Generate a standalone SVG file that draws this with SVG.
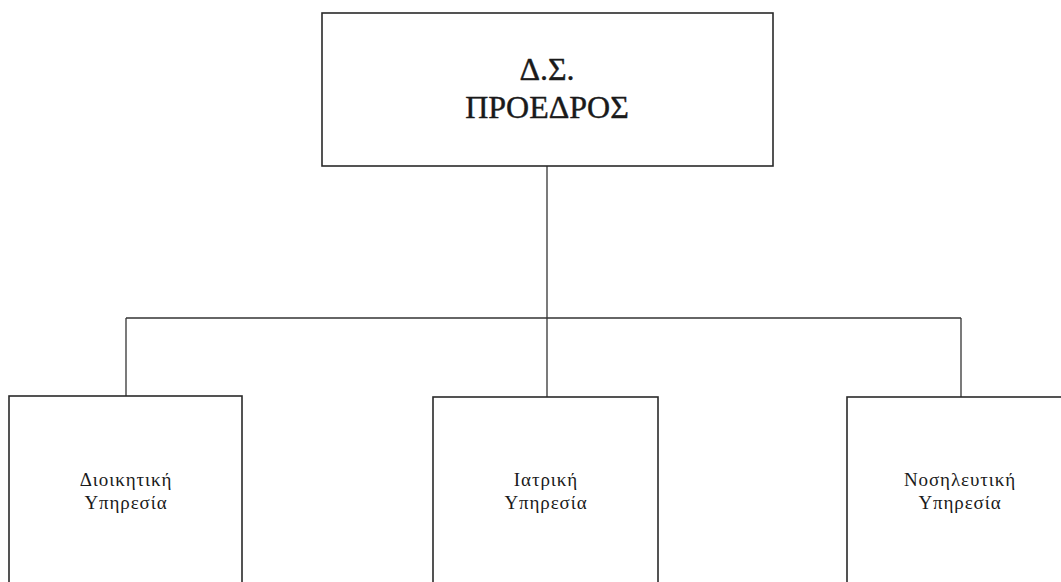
<svg xmlns="http://www.w3.org/2000/svg" width="1061" height="582" viewBox="0 0 1061 582">
<style>
.box{fill:#fff;stroke:#2a2a2a;stroke-width:1.6}
.ln{fill:none;stroke:#333;stroke-width:1.3}
.t{font-family:"Liberation Serif","DejaVu Serif",serif;fill:#1a1a1a;text-anchor:middle}
.big{font-size:32px;stroke:#1a1a1a;stroke-width:0.4}
.sm{font-size:19px;letter-spacing:0.9px}
</style>
<rect width="1061" height="582" fill="#fff"/>
<g id="connectors">
<path class="ln" d="M547 166 V397"/>
<path class="ln" d="M126 318 H961"/>
<path class="ln" d="M126 318 V397"/>
<path class="ln" d="M961 318 V397"/>
</g>
<g id="node-president">
<rect class="box" x="322" y="13" width="451" height="153"/>
<text class="t big" x="547" y="80">Δ.Σ.</text>
<text class="t big" x="547" y="118">ΠΡΟΕΔΡΟΣ</text>
</g>
<g id="node-admin">
<rect class="box" x="9" y="396" width="233" height="200"/>
<text class="t sm" x="126" y="486">Διοικητική</text>
<text class="t sm" x="126" y="509">Υπηρεσία</text>
</g>
<g id="node-medical">
<rect class="box" x="433" y="397" width="225" height="200"/>
<text class="t sm" x="546" y="486">Ιατρική</text>
<text class="t sm" x="546" y="509">Υπηρεσία</text>
</g>
<g id="node-nursing">
<rect class="box" x="847" y="397" width="230" height="200"/>
<text class="t sm" x="960" y="486">Νοσηλευτική</text>
<text class="t sm" x="960" y="509">Υπηρεσία</text>
</g>
</svg>
